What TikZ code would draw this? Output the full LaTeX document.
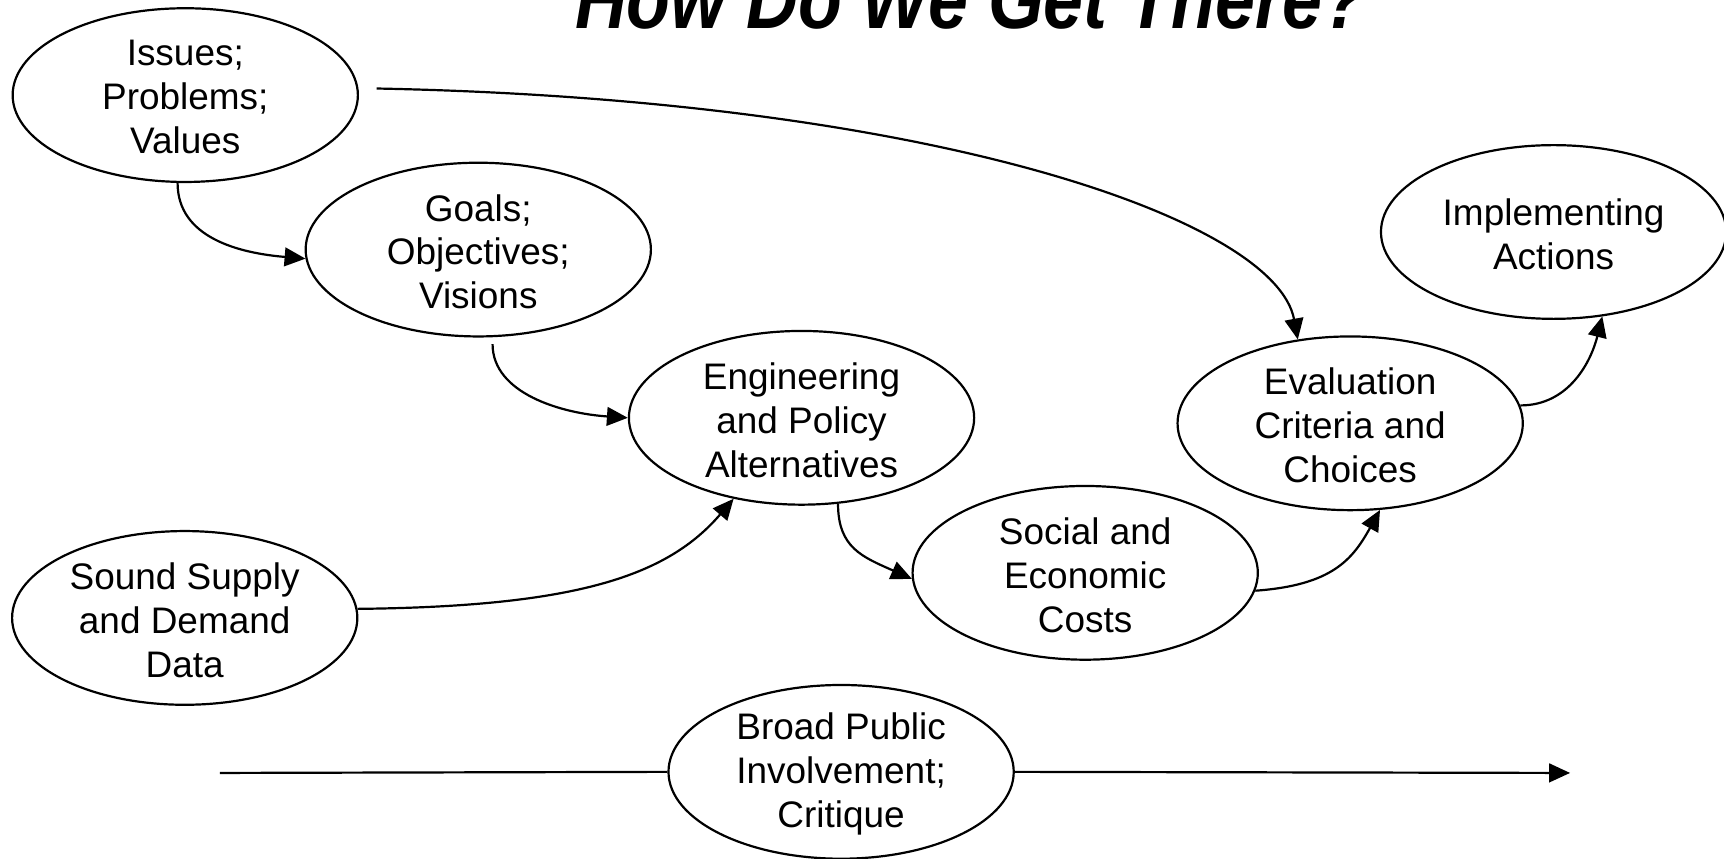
\documentclass[tikz,border=0pt]{standalone}
\usepackage{fontspec}
\setmainfont{Liberation Sans}
\usetikzlibrary{shapes.geometric,arrows.meta,calc}
\begin{document}
\begin{tikzpicture}[x=0.5pt,y=-0.5pt,
  ell/.style={ellipse,draw,line width=1pt,minimum width=157pt,minimum height=79pt,inner sep=0pt},
  lbl/.style={align=center,font=\fontsize{16.8pt}{20pt}\selectfont,inner sep=0pt,yshift=-1pt},
  conn/.style={line width=1pt,-{Triangle[length=9.5pt,width=8.5pt]}},
  barline/.style={line width=1pt}]
\clip (0,0) rectangle (1568,781);
\fill[white] (0,0) rectangle (1568,781);

\node[inner sep=0pt,anchor=base] (title) at (883,26)
  {\resizebox{360pt}{\height}{\fontsize{38pt}{42pt}\selectfont\bfseries\itshape How Do We Get There?}};

\node[ell] (iss) at (168.5,86.5) {};
\node[lbl] at (iss) {Issues;\\Problems;\\Values};
\node[ell] (goa) at (435,227) {};
\node[lbl] at (goa) {Goals;\\Objectives;\\Visions};
\node[ell] (eng) at (729,380) {};
\node[lbl] at (eng) {Engineering\\and Policy\\Alternatives};
\node[ell] (eva) at (1228,385) {};
\node[lbl] at (eva) {Evaluation\\Criteria and\\Choices};
\node[ell] (imp) at (1413,211) {};
\node[lbl] at (imp) {Implementing\\Actions};
\node[ell] (soc) at (987,521) {};
\node[lbl] at (soc) {Social and\\Economic\\Costs};
\node[ell] (snd) at (168,562) {};
\node[lbl] at (snd) {Sound Supply\\and Demand\\Data};
\node[ell] (bro) at (765,702) {};
\node[lbl] at (bro) {Broad Public\\Involvement;\\Critique};

\coordinate (b0) at ($(iss.east)+(16,-6)$);
\coordinate (c0) at ($(goa.south)+(13,6)$);
\coordinate (pl) at (200,703);
\coordinate (pr) at (1428,703);

\draw[conn] (iss.265) .. controls +(0,50) and +(-60,-5) .. (goa.183);
\draw[conn] (b0) .. controls +(509,10) and +(-20,-108) .. (eva.122);
\draw[conn] (c0) .. controls +(0,45) and +(-60,-4) .. (eng.west);
\draw[conn] (snd.3) .. controls +(200,-2) and +(-60,70) .. (eng.230);
\draw[conn] (eng.293) .. controls +(0,40) and +(-45,-20) .. (soc.182);
\draw[conn] (soc.354) .. controls +(70,-5) and +(-25,45) .. (eva.289);
\draw[conn] (eva.6) .. controls +(45,0) and +(-10,40) .. (imp.300);
\draw[barline] (pl) -- (bro.west);
\draw[conn] (bro.east) -- (pr);
\end{tikzpicture}
\end{document}
